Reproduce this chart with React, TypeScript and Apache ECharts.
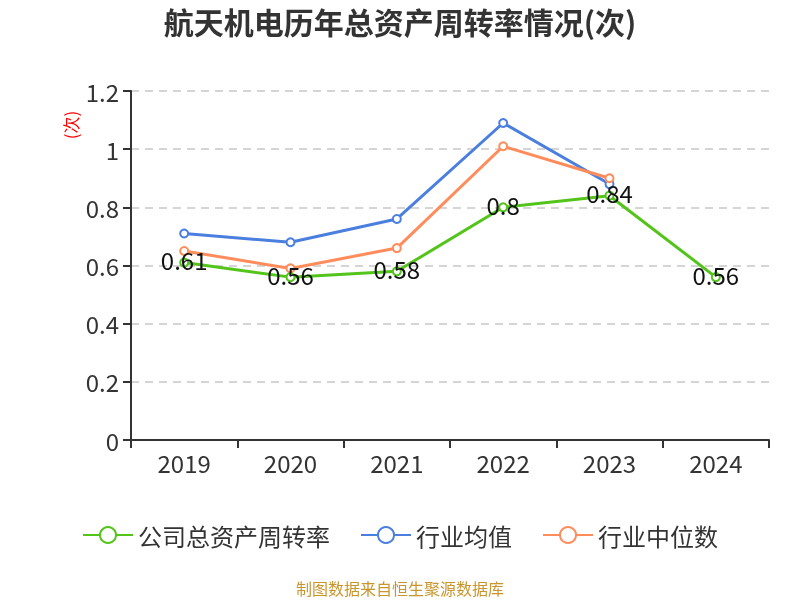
import React, { useEffect, useRef } from "react";
import * as echarts from "echarts";

const years = ["2019", "2020", "2021", "2022", "2023", "2024"];
const companyTurnover = [0.61, 0.56, 0.58, 0.8, 0.84, 0.56];
const industryAvg = [0.71, 0.68, 0.76, 1.09, 0.88, null];
const industryMedian = [0.65, 0.59, 0.66, 1.01, 0.9, null];

export default function App() {
  const ref = useRef<HTMLDivElement>(null);
  useEffect(() => {
    const chart = echarts.init(ref.current!, undefined, { renderer: "svg" });
    const font = "'Noto Sans CJK SC', 'Noto Sans', sans-serif";
    chart.setOption({
      animation: false,
      textStyle: { fontFamily: font },
      title: {
        text: "航天机电历年总资产周转率情况(次)",
        left: "center",
        top: 6,
        padding: 0,
        textStyle: { fontSize: 30, fontWeight: "bold", color: "#333", fontFamily: font },
      },
      grid: { left: 131, right: 31, top: 91, bottom: 160 },
      legend: {
        bottom: 48,
        left: "center",
        itemWidth: 50,
        itemHeight: 20,
        itemGap: 30,
        textStyle: { fontSize: 24, color: "#333", fontFamily: font },
        data: ["公司总资产周转率", "行业均值", "行业中位数"],
      },
      graphic: [
        {
          type: "text",
          left: "center",
          top: 580,
          style: { text: "制图数据来自恒生聚源数据库", fill: "#c8962f", fontSize: 16, fontFamily: font },
        },
        {
          type: "text",
          x: 70,
          y: 125,
          rotation: Math.PI / 2,
          style: { text: "(次)", fill: "#ff0000", fontSize: 17, fontFamily: font, align: "center", verticalAlign: "middle" },
        },
      ],
      xAxis: {
        type: "category",
        data: years,
        boundaryGap: true,
        axisLine: { show: true, lineStyle: { color: "#333", width: 2 } },
        axisTick: { show: true, alignWithLabel: false, length: 8, lineStyle: { color: "#333", width: 2 } },
        axisLabel: { fontSize: 24, color: "#333", margin: 10 },
      },
      yAxis: {
        type: "value",
        min: 0,
        max: 1.2,
        interval: 0.2,
        axisLine: { show: true, lineStyle: { color: "#333", width: 2 } },
        axisTick: { show: true, length: 8, lineStyle: { color: "#333", width: 2 } },
        axisLabel: { fontSize: 24, color: "#333", margin: 12, formatter: (v: number) => String(parseFloat(v.toFixed(1))) },
        splitLine: { show: true, lineStyle: { color: "#c8c8c8", type: [8, 6], width: 1.5 } },
      },
      series: [
        {
          name: "公司总资产周转率",
          type: "line",
          data: companyTurnover,
          symbol: "emptyCircle",
          symbolSize: 8,
          color: "#52c41a",
          lineStyle: { width: 3, color: "#52c41a" },
          itemStyle: { color: "#52c41a", borderWidth: 2 },
          label: { show: true, position: "inside", fontSize: 24, color: "#111", offset: [0, -3] },
          z: 3,
        },
        {
          name: "行业均值",
          type: "line",
          data: industryAvg,
          symbol: "emptyCircle",
          symbolSize: 8,
          color: "#4a7fe0",
          lineStyle: { width: 3, color: "#4a7fe0" },
          itemStyle: { color: "#4a7fe0", borderWidth: 2 },
          z: 2,
        },
        {
          name: "行业中位数",
          type: "line",
          data: industryMedian,
          symbol: "emptyCircle",
          symbolSize: 8,
          color: "#ff8c5a",
          lineStyle: { width: 3, color: "#ff8c5a" },
          itemStyle: { color: "#ff8c5a", borderWidth: 2 },
          z: 2,
        },
      ],
    });
    return () => chart.dispose();
  }, []);
  return <div ref={ref} style={{ width: 800, height: 600, position: "fixed", left: 0, top: 0 }} />;
}
